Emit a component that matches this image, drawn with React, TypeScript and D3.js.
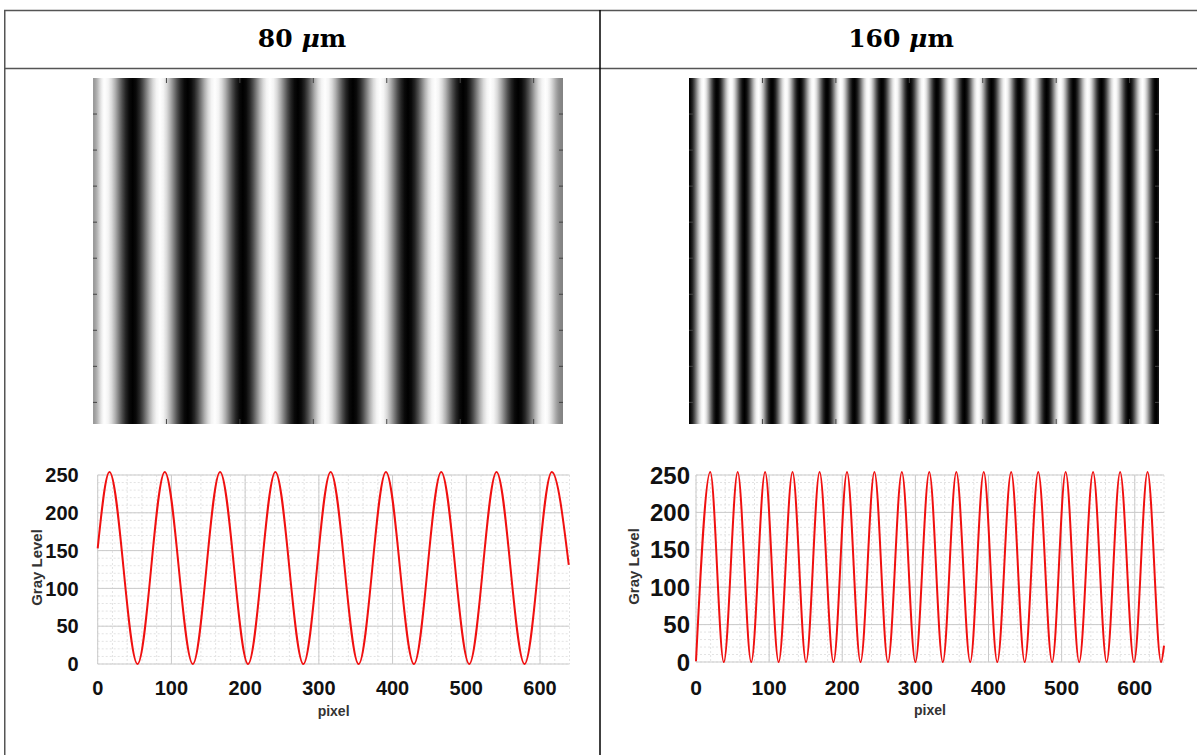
import React from 'react';
import * as d3 from 'd3';

// axis ticks
const pixelTicks = [0, 100, 200, 300, 400, 500, 600];
const grayTicks = [0, 50, 100, 150, 200, 250];
const imageXTicks = [100, 200, 300, 400, 500, 600];
const imageYTicks = [50, 100, 150, 200, 250, 300, 350, 400, 450];

// column titles
const titles = ['80', '160'];
const unit = 'μm';

// 80 µm: gray level at start, peaks, troughs, end (pixel / gray)
const pixel80 = [0, 16, 54, 91, 129, 166, 204, 241, 279, 316, 354, 391, 429, 466, 504, 541, 579, 616, 639];
const gray80 = [153, 254, 0, 254, 0, 254, 0, 254, 0, 254, 0, 254, 0, 254, 0, 254, 0, 254, 131];

// 160 µm
const pixel160 = [
  0, 19.5, 38, 57, 75.5, 94.5, 113, 132, 150.5, 169, 188, 206.5, 225, 244, 262.5, 281.5, 300,
  319, 337.5, 356, 375, 393.5, 412, 431, 449.5, 468, 487, 505.5, 524, 543, 561.5, 580, 599,
  617.5, 636, 640,
];
const gray160 = [
  1, 254, 0, 254, 0, 254, 0, 254, 0, 254, 0, 254, 0, 254, 0, 254, 0,
  254, 0, 254, 0, 254, 0, 254, 0, 254, 0, 254, 0, 254, 0, 254, 0,
  254, 0, 22,
];

const layouts = [
  {
    cx: 302,
    img: { x: 93, y: 78, w: 470, h: 346 },
    plot: { left: 97.7, right: 569.5, top: 475, bottom: 664 },
    yTickFont: 20,
    xTickFont: 20,
    yLabelGap: 19,
    xLabelY: 695,
    grayTitleX: 37,
    pixelTitleY: 716,
  },
  {
    cx: 901,
    img: { x: 689, y: 78, w: 470, h: 346 },
    plot: { left: 696, right: 1164, top: 475, bottom: 662 },
    yTickFont: 24,
    xTickFont: 21,
    yLabelGap: 6,
    xLabelY: 695,
    grayTitleX: 634,
    pixelTitleY: 715,
  },
];

const sans = '"Liberation Sans", Arial, sans-serif';

function fringeStops(pixels: number[], grays: number[]) {
  const stops: { offset: number; g: number }[] = [];
  d3.pairs(d3.range(pixels.length)).forEach(([a, b]) => {
    const px = d3.interpolateNumber(pixels[a], pixels[b]);
    const gv = d3.interpolateNumber(grays[a], grays[b]);
    for (let k = 0; k < 8; k++) {
      const t = k / 8;
      stops.push({ offset: px(t) / 640, g: gv(d3.easeSinInOut(t)) });
    }
  });
  const n = pixels.length - 1;
  stops.push({ offset: pixels[n] / 640, g: grays[n] });
  return stops;
}

function Panel({ idx, pixels, grays }: { idx: number; pixels: number[]; grays: number[] }) {
  const L = layouts[idx];
  const { plot, img } = L;

  const x = d3.scaleLinear().domain([0, 640]).range([plot.left, plot.right]);
  const y = d3.scaleLinear().domain([0, 250]).range([plot.bottom, plot.top]);

  const ix = d3.scaleLinear().domain([0, 640]).range([img.x, img.x + img.w]);
  const iy = d3.scaleLinear().domain([0, 480]).range([img.y, img.y + img.h]);

  const line = d3
    .line<number>()
    .x((_, i) => x(pixels[i]))
    .y((d) => y(d))
    .curve(d3.curveMonotoneX);

  const gradId = `fringe-${idx}`;
  const stops = fringeStops(pixels, grays);

  const minorX = x.ticks(32);
  const minorY = y.ticks(25);

  return (
    <g>
      <text
        x={L.cx}
        y={47}
        textAnchor="middle"
        fontFamily='"DejaVu Serif", serif'
        fontWeight="bold"
        fontSize={25}
        fill="#000"
      >
        {titles[idx]}{' '}
        <tspan fontStyle="italic">{unit[0]}</tspan>
        {unit.slice(1)}
      </text>

      {/* fringe image */}
      <defs>
        <linearGradient id={gradId} gradientUnits="userSpaceOnUse" x1={img.x} x2={img.x + img.w} y1={0} y2={0}>
          {stops.map((s, i) => (
            <stop key={i} offset={s.offset} stopColor={d3.rgb(s.g, s.g, s.g).formatHex()} />
          ))}
        </linearGradient>
      </defs>
      <rect x={img.x} y={img.y} width={img.w} height={img.h} fill={`url(#${gradId})`} />
      <g stroke="#444" strokeWidth={1}>
        {imageYTicks.map((t) => (
          <g key={`iy${t}`}>
            <line x1={img.x} x2={img.x + 4} y1={iy(t)} y2={iy(t)} />
            <line x1={img.x + img.w - 4} x2={img.x + img.w} y1={iy(t)} y2={iy(t)} />
          </g>
        ))}
        {imageXTicks.map((t) => (
          <g key={`ix${t}`}>
            <line x1={ix(t)} x2={ix(t)} y1={img.y} y2={img.y + 5} />
            <line x1={ix(t)} x2={ix(t)} y1={img.y + img.h - 5} y2={img.y + img.h} />
          </g>
        ))}
      </g>

      {/* chart grid */}
      <g stroke="#e3e3e3" strokeWidth={1} strokeDasharray="2,2">
        {minorX.map((t) => (
          <line key={`mx${t}`} x1={x(t)} x2={x(t)} y1={plot.top} y2={plot.bottom} />
        ))}
        {minorY.map((t) => (
          <line key={`my${t}`} x1={plot.left} x2={plot.right} y1={y(t)} y2={y(t)} />
        ))}
      </g>
      <g stroke="#cbcbcb" strokeWidth={1}>
        {pixelTicks.map((t) => (
          <line key={`gx${t}`} x1={x(t)} x2={x(t)} y1={plot.top} y2={plot.bottom} />
        ))}
        {grayTicks.map((t) => (
          <line key={`gy${t}`} x1={plot.left} x2={plot.right} y1={y(t)} y2={y(t)} />
        ))}
      </g>

      <path d={line(grays) || ''} fill="none" stroke="#f01010" strokeWidth={2} />

      {/* tick labels */}
      <g fontFamily={sans} fontWeight="bold" fill="#111">
        {grayTicks.map((t) => (
          <text
            key={`ly${t}`}
            x={plot.left - L.yLabelGap}
            y={y(t)}
            dy="0.36em"
            textAnchor="end"
            fontSize={L.yTickFont}
          >
            {t}
          </text>
        ))}
        {pixelTicks.map((t) => (
          <text key={`lx${t}`} x={x(t)} y={L.xLabelY} textAnchor="middle" fontSize={L.xTickFont}>
            {t}
          </text>
        ))}
      </g>
      <text
        x={(plot.left + plot.right) / 2}
        y={L.pixelTitleY}
        textAnchor="middle"
        fontFamily={sans}
        fontWeight="bold"
        fontSize={14}
        fill="#333"
      >
        pixel
      </text>
      <text
        transform={`translate(${L.grayTitleX},${(plot.top + plot.bottom) / 2 - 2}) rotate(-90)`}
        dy="0.35em"
        textAnchor="middle"
        fontFamily={sans}
        fontWeight="bold"
        fontSize={15}
        fill="#333"
      >
        Gray Level
      </text>
    </g>
  );
}

export default function App() {
  return (
    <svg
      width={1197}
      height={755}
      style={{ position: 'absolute', left: 0, top: 0, background: '#fff' }}
    >
      <rect width={1197} height={755} fill="#fff" />
      {/* table rules */}
      <g stroke="#555" strokeWidth={1.5}>
        <line x1={4} x2={1197} y1={10.5} y2={10.5} />
        <line x1={4} x2={1197} y1={68.5} y2={68.5} />
        <line x1={4.75} x2={4.75} y1={10} y2={755} />
      </g>
      <line x1={600} x2={600} y1={10} y2={755} stroke="#000" strokeWidth={1.5} />

      <Panel idx={0} pixels={pixel80} grays={gray80} />
      <Panel idx={1} pixels={pixel160} grays={gray160} />
    </svg>
  );
}
